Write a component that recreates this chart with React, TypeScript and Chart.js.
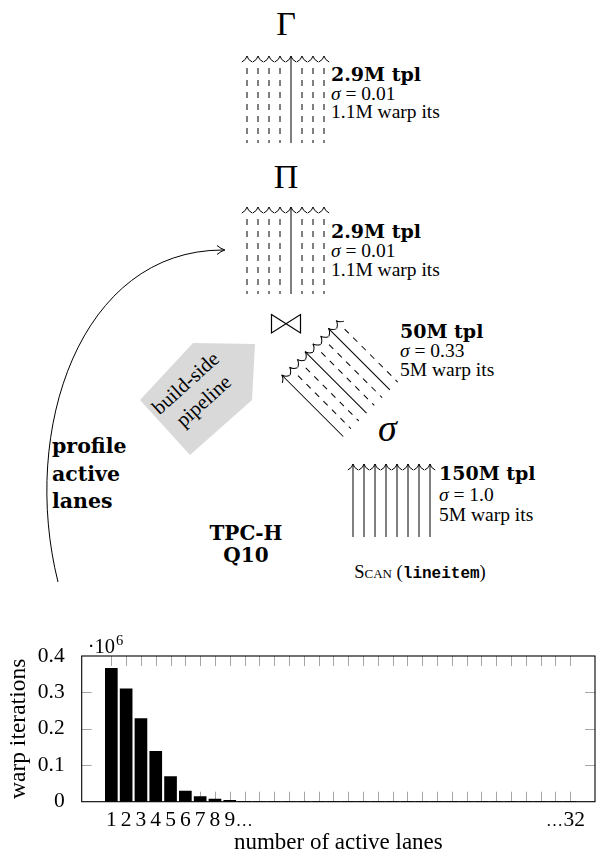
import React, { useEffect, useRef } from "react";
import { Chart, registerables } from "chart.js";

Chart.register(...registerables);

// ---------- chart data ----------
const activeLanes = [
  1, 2, 3, 4, 5, 6, 7, 8, 9, 10, 11, 12, 13, 14, 15, 16,
  17, 18, 19, 20, 21, 22, 23, 24, 25, 26, 27, 28, 29, 30, 31, 32,
];
// warp iterations, in units of 10^6
const warpIterations = [
  0.366, 0.31, 0.228, 0.138, 0.069, 0.029, 0.014, 0.0075, 0.004, 0.0008, 0.0004,
  0.0002, 0.0001, 0, 0, 0, 0, 0, 0, 0, 0, 0, 0, 0, 0, 0, 0, 0, 0, 0, 0, 0,
];
const xTickLabels = [
  "1", "2", "3", "4", "5", "6", "7", "8", "9\u2026", "", "", "", "", "", "", "",
  "", "", "", "", "", "", "", "", "", "", "", "", "", "", "", "\u202632",
];
const yTickValues = [0, 0.1, 0.2, 0.3, 0.4];
const yTickLabels = ["0", "0.1", "0.2", "0.3", "0.4"];
const yInnerTicks = [0.1, 0.2, 0.3];
const xAxisTitle = "number of active lanes";
const yAxisTitle = "warp iterations";
const yScaleNote = ["\u00b710", "6"];

// ---------- diagram data ----------
const opSymbols = ["\u0393", "\u03a0", "\u22c8", "\u03c3"];
const opTuples = ["2.9M tpl", "2.9M tpl", "50M tpl", "150M tpl"];
const opSelectivity = ["0.01", "0.01", "0.33", "1.0"];
const opWarpIts = ["1.1M warp its", "1.1M warp its", "5M warp its", "5M warp its"];
const laneActiveGamma = [0, 0, 0, 0, 1, 0, 0, 0];
const laneActivePi = [0, 0, 0, 0, 1, 0, 0, 0];
const laneActiveJoin = [1, 0, 0, 1, 0, 0, 1, 0];
const laneActiveScan = [1, 1, 1, 1, 1, 1, 1, 1];
const profileLines = ["profile", "active", "lanes"];
const queryLines = ["TPC-H", "Q10"];
const pipelineLines = ["build-side", "pipeline"];

const SERIF = "'Liberation Serif', serif";
const SERIF_B = "'DejaVu Serif', serif";
const MONO = "'Liberation Mono', monospace";

const LANE_SP = 11;

function Lanes(props: { tx: number; ty: number; rot: number; active: number[]; len: number }) {
  const { tx, ty, rot, active, len } = props;
  return (
    <g transform={`translate(${tx},${ty}) rotate(${rot})`} stroke="#000" fill="none" strokeWidth={1}>
      {active.map((a, i) => {
        const x = i * LANE_SP;
        return (
          <g key={i}>
            {a ? (
              <line x1={x} y1={0} x2={x} y2={len} />
            ) : (
              <line x1={x} y1={12} x2={x} y2={len} strokeDasharray="6 6" />
            )}
            <path d={`M${x - 5.2},6 Q${x - 0.8},3.8 ${x},0 Q${x + 0.8},3.8 ${x + 5.2},6`} />
          </g>
        );
      })}
    </g>
  );
}

function OpText(props: { x: number; y: number; idx: number; gap: number }) {
  const { x, y, idx, gap } = props;
  return (
    <g fontFamily={SERIF} fontSize={19.5} fill="#000">
      <text x={x} y={y} fontFamily={SERIF_B} fontWeight="bold" fontSize={19}>{opTuples[idx]}</text>
      <text x={x} y={y + gap}>
        <tspan fontStyle="italic">{"\u03c3"}</tspan>
        {" = " + opSelectivity[idx]}
      </text>
      <text x={x} y={y + gap * 2}>{opWarpIts[idx]}</text>
    </g>
  );
}

function Diagram() {
  return (
    <svg
      width={605}
      height={630}
      style={{ position: "absolute", left: 0, top: 0 }}
      xmlns="http://www.w3.org/2000/svg"
    >
      {/* Gamma */}
      <text x={286} y={35} textAnchor="middle" fontFamily={SERIF} fontSize={34}>{opSymbols[0]}</text>
      <Lanes tx={247} ty={56} rot={0} active={laneActiveGamma} len={87} />
      <OpText x={331} y={81} idx={0} gap={18.5} />

      {/* Pi */}
      <text x={286} y={188} textAnchor="middle" fontFamily={SERIF} fontSize={34}>{opSymbols[1]}</text>
      <Lanes tx={247} ty={207} rot={0} active={laneActivePi} len={87} />
      <OpText x={331} y={238} idx={1} gap={19} />

      {/* Join */}
      <path d="M271.5,314.5 L300.5,333 L300.5,314.5 L271.5,333 Z" fill="none" stroke="#000" strokeWidth={1.2} />
      <Lanes tx={281.7} ty={375} rot={-45} active={laneActiveJoin} len={87} />
      <OpText x={400} y={338} idx={2} gap={19} />

      {/* Selection */}
      <text x={378} y={441} fontFamily={SERIF} fontStyle="italic" fontSize={38}>{opSymbols[3]}</text>

      {/* Scan */}
      <Lanes tx={353} ty={464} rot={0} active={laneActiveScan} len={73} />
      <OpText x={439} y={480} idx={3} gap={20.5} />
      <text x={420} y={578} textAnchor="middle" fontFamily={SERIF} fontSize={18.5}>
        <tspan fontVariant="small-caps">Scan</tspan>
        <tspan>{" ("}</tspan>
        <tspan fontFamily={MONO} fontSize={16} fontWeight="bold">lineitem</tspan>
        <tspan>)</tspan>
      </text>

      {/* build-side pipeline arrow */}
      <polygon points="140,400 193,343 255,344 252,400 190,455" fill="#d9d9d9" />
      <g fontFamily={SERIF} fontSize={20.5} textAnchor="middle">
        <text transform="translate(190,388) rotate(-42)">{pipelineLines[0]}</text>
        <text transform="translate(208,406) rotate(-42)">{pipelineLines[1]}</text>
      </g>

      {/* TPC-H Q10 */}
      <g fontFamily={SERIF_B} fontSize={20} fontWeight="bold" textAnchor="middle">
        <text x={246} y={540}>{queryLines[0]}</text>
        <text x={246} y={562}>{queryLines[1]}</text>
      </g>

      {/* profile active lanes */}
      <g fontFamily={SERIF_B} fontSize={20.5} fontWeight="bold">
        {profileLines.map((t, i) => (
          <text key={t} x={52} y={453 + i * 27.5}>{t}</text>
        ))}
      </g>

      {/* curved arrow */}
      <path d="M58,582 C20,430 80,250 223,250" fill="none" stroke="#000" strokeWidth={1} />
      <path d="M217,245.5 Q221,249 225,250 Q221,251 217,254.5" fill="none" stroke="#000" strokeWidth={1} />
    </svg>
  );
}

const framePlugin = {
  id: "pgfFrame",
  beforeDatasetsDraw(chart: any) {
    const { ctx, chartArea, scales } = chart;
    const { left, right, top, bottom } = chartArea;
    ctx.save();
    ctx.strokeStyle = "#a6a6a6";
    ctx.lineWidth = 1;
    ctx.beginPath();
    activeLanes.forEach((v) => {
      const px = Math.round(scales.x.getPixelForValue(v)) + 0.5;
      ctx.moveTo(px, top);
      ctx.lineTo(px, top + 10);
      ctx.moveTo(px, bottom);
      ctx.lineTo(px, bottom - 10);
    });
    yInnerTicks.forEach((v) => {
      const py = Math.round(scales.y.getPixelForValue(v)) + 0.5;
      ctx.moveTo(left, py);
      ctx.lineTo(left + 10, py);
      ctx.moveTo(right, py);
      ctx.lineTo(right - 10, py);
    });
    ctx.stroke();
    ctx.restore();
  },
  afterDatasetsDraw(chart: any) {
    const { ctx, chartArea, scales } = chart;
    const { left, right, top, bottom } = chartArea;
    ctx.save();
    ctx.strokeStyle = "#000";
    ctx.lineWidth = 1.1;
    ctx.strokeRect(left, top, right - left, bottom - top);
    ctx.fillStyle = "#000";
    ctx.textBaseline = "alphabetic";

    // x tick labels (digits centred on the tick, dots beside them)
    const labelY = bottom + 24;
    activeLanes.forEach((v, i) => {
      const lab = xTickLabels[i];
      if (!lab) return;
      const px = scales.x.getPixelForValue(v);
      const digits = lab.replace("\u2026", "");
      ctx.font = `21.5px ${SERIF}`;
      ctx.textAlign = "center";
      const dw = ctx.measureText(digits).width;
      let cx = px;
      if (lab.startsWith("\u2026")) cx = px + 4;
      ctx.fillText(digits, cx, labelY);
      ctx.font = `17px ${SERIF}`;
      if (lab.endsWith("\u2026")) {
        ctx.textAlign = "left";
        ctx.fillText("\u2026", cx + dw / 2 + 0.5, labelY);
      } else if (lab.startsWith("\u2026")) {
        ctx.textAlign = "right";
        ctx.fillText("\u2026", cx - dw / 2 - 0.5, labelY);
      }
    });

    // 10^6 multiplier
    ctx.textAlign = "left";
    ctx.font = `20.5px ${SERIF}`;
    ctx.fillText(yScaleNote[0], left + 6, top - 3);
    const w = ctx.measureText(yScaleNote[0]).width;
    ctx.font = `14.5px ${SERIF}`;
    ctx.fillText(yScaleNote[1], left + 6 + w + 1, top - 11);
    ctx.restore();
  },
};

function BarChart() {
  const ref = useRef<HTMLCanvasElement | null>(null);
  useEffect(() => {
    if (!ref.current) return;
    const chart = new Chart(ref.current, {
      type: "bar",
      data: {
        datasets: [
          {
            data: activeLanes.map((x, i) => ({ x, y: warpIterations[i] })) as any,
            backgroundColor: "#000",
            borderColor: "#000",
            borderWidth: 0,
            barThickness: 12,
          },
        ],
      },
      options: {
        animation: false,
        responsive: false,
        devicePixelRatio: 1,
        layout: { padding: { top: 26, right: 10, left: 0, bottom: 0 } },
        plugins: { legend: { display: false }, tooltip: { enabled: false } },
        scales: {
          x: {
            type: "linear",
            min: -0.46,
            max: 33.13,
            grid: { display: false },
            border: { display: false },
            afterBuildTicks: (s: any) => {
              s.ticks = activeLanes.map((v) => ({ value: v }));
            },
            afterFit: (s: any) => {
              s.height = 55.3;
            },
            ticks: { display: false, autoSkip: false, maxRotation: 0 },
            title: {
              display: true,
              text: xAxisTitle,
              color: "#000",
              font: { family: SERIF, size: 23 },
              padding: { top: 0, bottom: 0 },
            },
          },
          y: {
            type: "linear",
            min: 0,
            max: 0.4,
            grid: { display: false },
            border: { display: false },
            afterBuildTicks: (s: any) => {
              s.ticks = yTickValues.map((v) => ({ value: v }));
            },
            afterFit: (s: any) => {
              s.width = 81.7;
            },
            ticks: {
              padding: 9,
              color: "#000",
              font: { family: SERIF, size: 21.5 },
              callback: (v: any) => {
                const i = yTickValues.indexOf(Number(v));
                return i >= 0 ? yTickLabels[i] : "";
              },
            },
            title: {
              display: true,
              text: yAxisTitle,
              color: "#000",
              font: { family: SERIF, size: 23.5 },
              padding: { top: 5, bottom: 0 },
            },
          },
        },
      } as any,
      plugins: [framePlugin],
    });
    return () => chart.destroy();
  }, []);
  return (
    <canvas
      ref={ref}
      width={605}
      height={227}
      style={{ position: "absolute", left: 0, top: 630, width: 605, height: 227 }}
    />
  );
}

export default function App() {
  return (
    <div style={{ position: "absolute", left: 0, top: 0, width: 605, height: 857, background: "#fff", overflow: "hidden" }}>
      <Diagram />
      <BarChart />
    </div>
  );
}
